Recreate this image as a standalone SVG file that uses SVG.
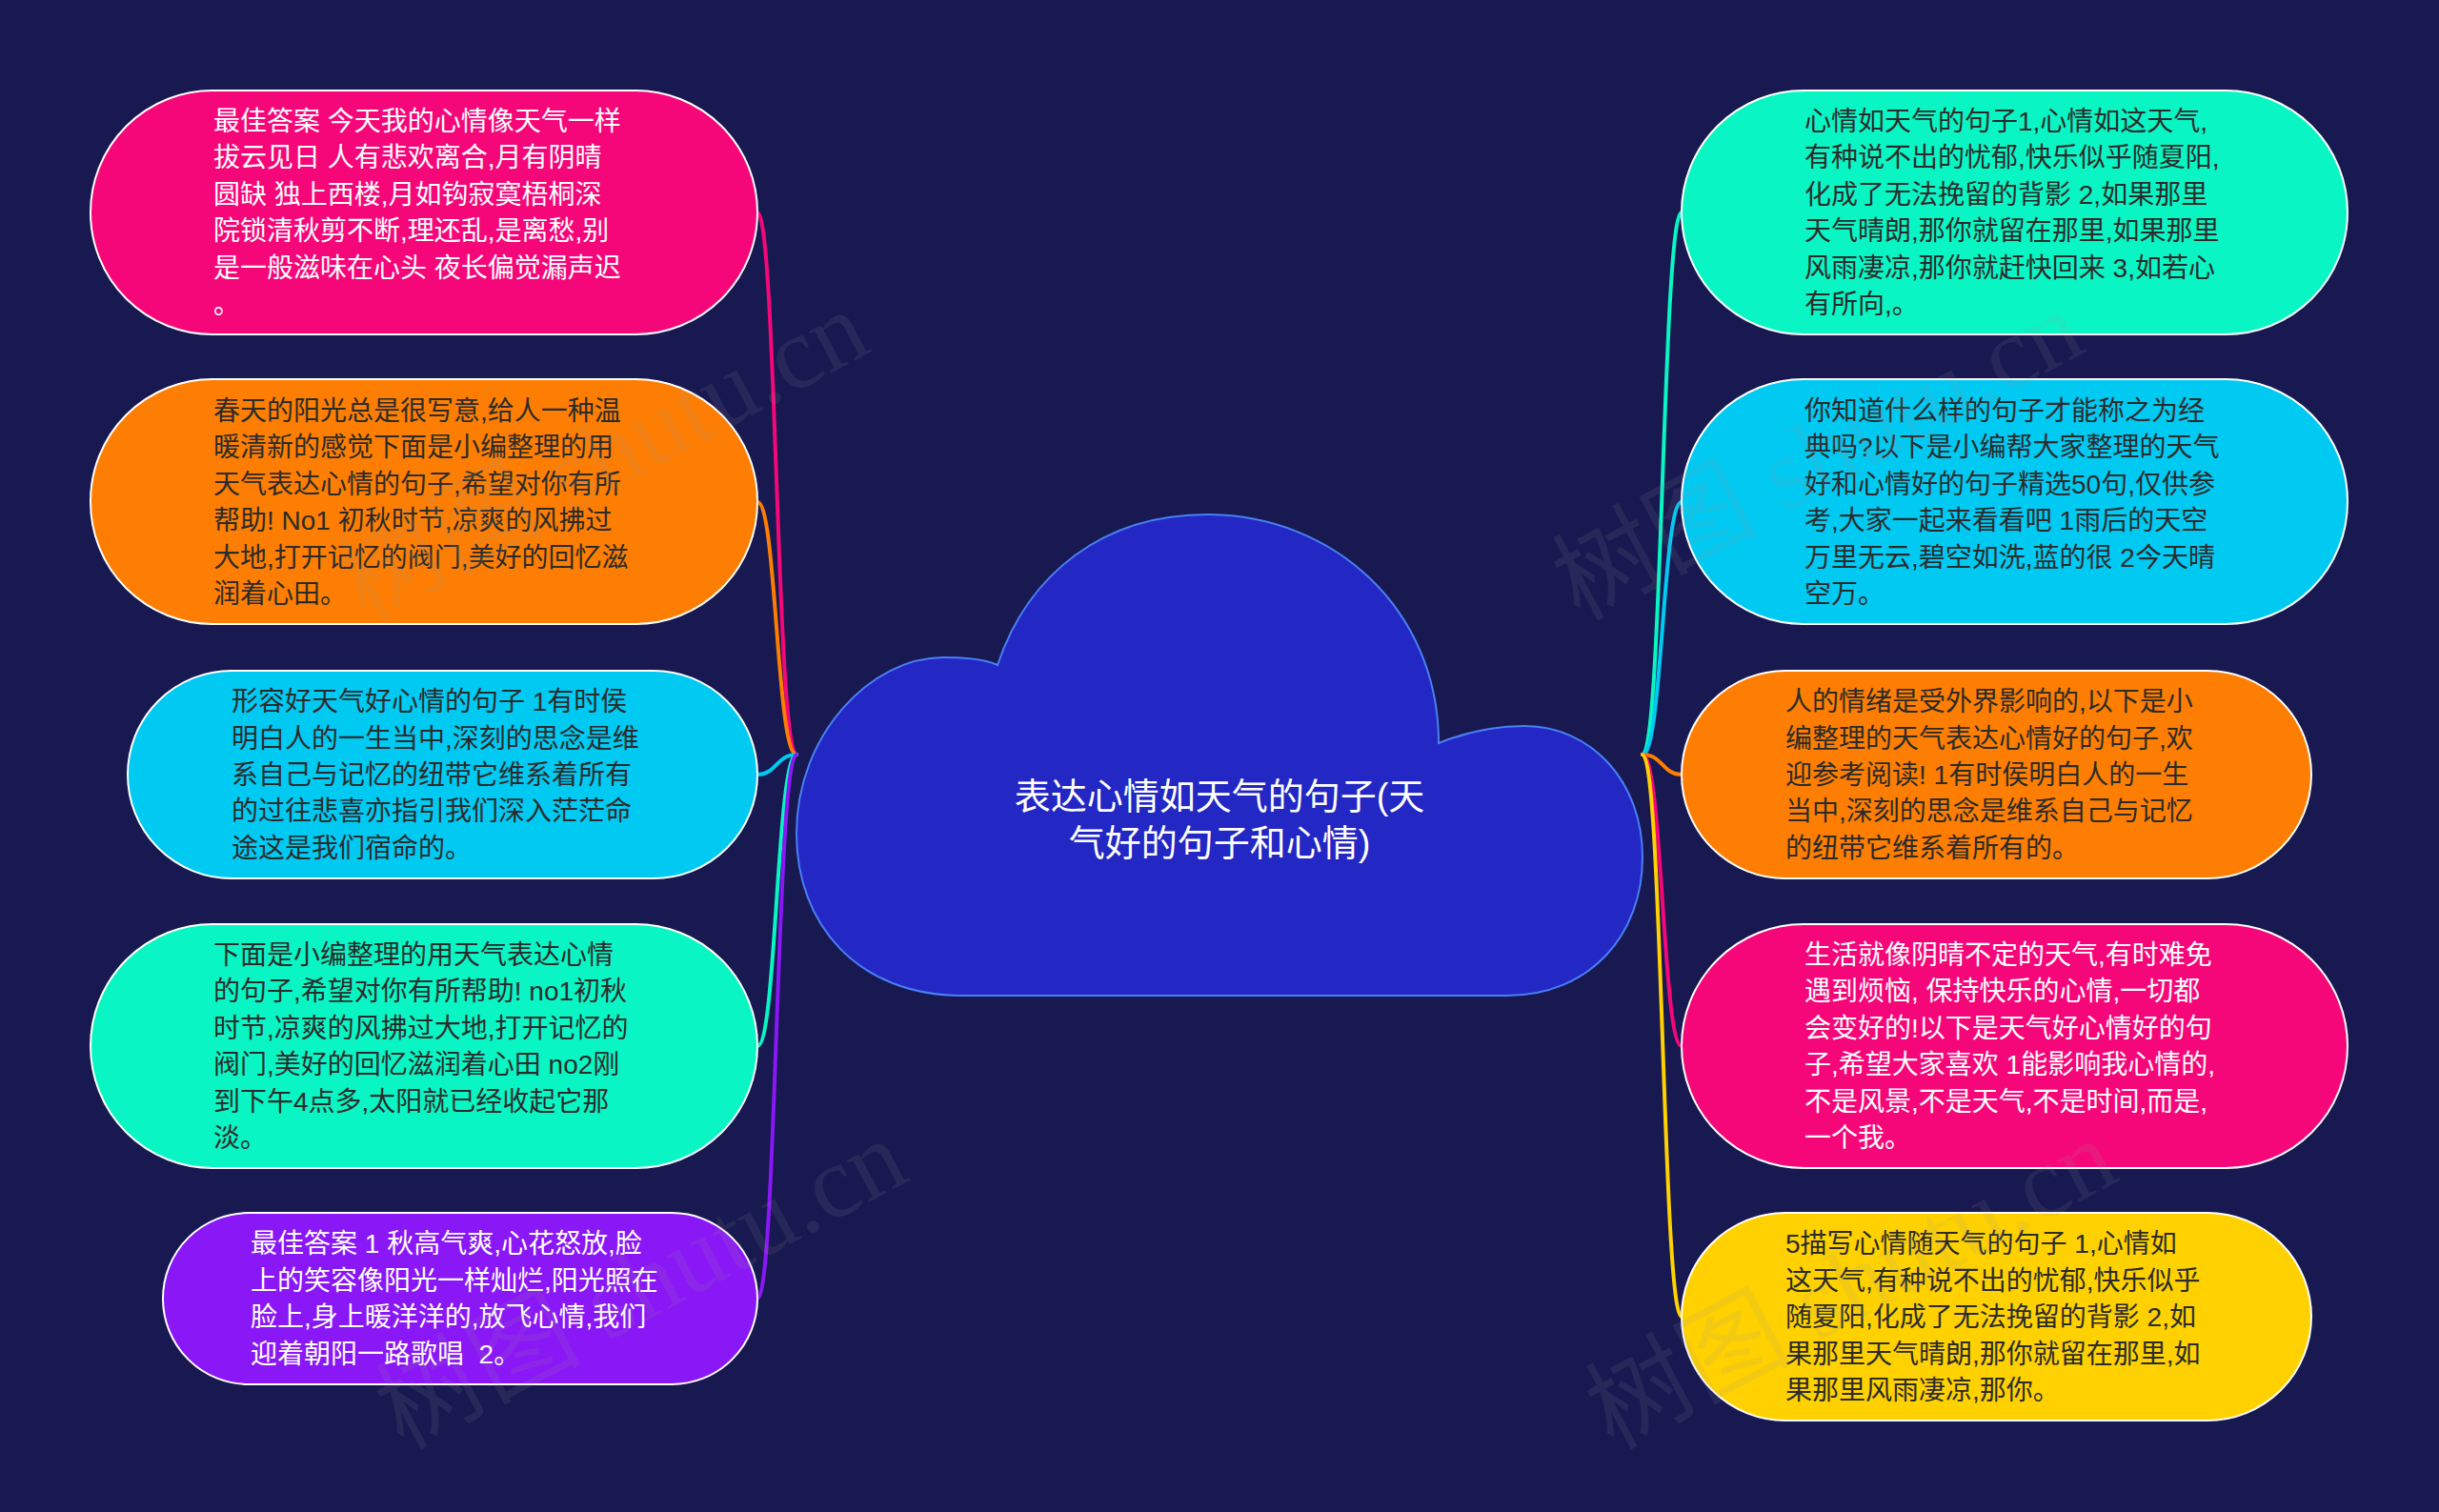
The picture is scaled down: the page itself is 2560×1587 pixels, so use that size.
<svg xmlns="http://www.w3.org/2000/svg" width="2560" height="1587" viewBox="0 0 2560 1587">
<style>
.bg{fill:#171950}
.node{stroke:#ffffff;stroke-width:2}
.t{font-family:"Liberation Sans","Noto Sans CJK SC",sans-serif;font-size:28px}
.w{fill:#ffffff}
.d{fill:#2b2b2b}
.title{font-family:"Liberation Sans","Noto Sans CJK SC",sans-serif;font-size:38px;fill:#ffffff;text-anchor:middle}
.conn{fill:none;stroke-width:4;stroke-linecap:round}
.wm{font-family:"Liberation Serif","Noto Sans CJK SC",serif;font-size:108px;fill:#9a9a9a;fill-opacity:0.12}
</style>
<rect class="bg" x="0" y="0" width="2560" height="1587"/>

<g id="connectors">
<path class="conn" stroke="#F5077A" d="M836 792 C815 792 815 223 795 223"/>
<path class="conn" stroke="#FD7E02" d="M836 792 C815 792 815 527 795 527"/>
<path class="conn" stroke="#00C9F2" d="M836 792 C815 792 815 813 795 813"/>
<path class="conn" stroke="#0AF5C4" d="M836 792 C815 792 815 1098 795 1098"/>
<path class="conn" stroke="#8A17F5" d="M836 792 C815 792 815 1363 795 1363"/>
<path class="conn" stroke="#0AF5C4" d="M1724 792 C1745 792 1745 223 1765 223"/>
<path class="conn" stroke="#00C9F2" d="M1724 792 C1745 792 1745 527 1765 527"/>
<path class="conn" stroke="#FD7E02" d="M1724 792 C1745 792 1745 813 1765 813"/>
<path class="conn" stroke="#F5077A" d="M1724 792 C1745 792 1745 1098 1765 1098"/>
<path class="conn" stroke="#FFD100" d="M1724 792 C1745 792 1745 1382 1765 1382"/>
</g>

<g id="center">
<path d="M1010 1045 C900 1045 836 970 836 875 C836 770 915 690 990 690 C1015 690 1035 692 1047 698 C1080 600 1160 540 1267 540 C1400 540 1510 640 1510 780 C1540 768 1570 762 1600 762 C1670 762 1724 820 1724 900 C1724 980 1670 1045 1581 1045 Z" fill="#2327C4" stroke="#4A7FF5" stroke-width="2"/>
<text class="title"><tspan x="1280" y="849">表达心情如天气的句子(天</tspan><tspan x="1280" y="898">气好的句子和心情)</tspan></text>
</g>

<g id="L1">
<rect class="node" x="95" y="95" width="700" height="256" rx="128" fill="#F5077A"/>
<text class="t w"><tspan x="224" y="137">最佳答案 今天我的心情像天气一样</tspan><tspan x="224" y="175">拔云见日 人有悲欢离合,月有阴晴</tspan><tspan x="224" y="214">圆缺 独上西楼,月如钩寂寞梧桐深</tspan><tspan x="224" y="252">院锁清秋剪不断,理还乱,是离愁,别</tspan><tspan x="224" y="291">是一般滋味在心头 夜长偏觉漏声迟</tspan><tspan x="224" y="329">。</tspan></text>
</g>
<g id="L2">
<rect class="node" x="95" y="398" width="700" height="257" rx="128" fill="#FD7E02"/>
<text class="t d"><tspan x="224" y="441">春天的阳光总是很写意,给人一种温</tspan><tspan x="224" y="479">暖清新的感觉下面是小编整理的用</tspan><tspan x="224" y="518">天气表达心情的句子,希望对你有所</tspan><tspan x="224" y="556">帮助! No1 初秋时节,凉爽的风拂过</tspan><tspan x="224" y="595">大地,打开记忆的阀门,美好的回忆滋</tspan><tspan x="224" y="633">润着心田。</tspan></text>
</g>
<g id="L3">
<rect class="node" x="134" y="704" width="661" height="218" rx="109" fill="#00C9F2"/>
<text class="t d"><tspan x="243" y="746">形容好天气好心情的句子 1有时侯</tspan><tspan x="243" y="785">明白人的一生当中,深刻的思念是维</tspan><tspan x="243" y="823">系自己与记忆的纽带它维系着所有</tspan><tspan x="243" y="861">的过往悲喜亦指引我们深入茫茫命</tspan><tspan x="243" y="900">途这是我们宿命的。</tspan></text>
</g>
<g id="L4">
<rect class="node" x="95" y="970" width="700" height="256" rx="128" fill="#0AF5C4"/>
<text class="t d"><tspan x="224" y="1012">下面是小编整理的用天气表达心情</tspan><tspan x="224" y="1050">的句子,希望对你有所帮助! no1初秋</tspan><tspan x="224" y="1089">时节,凉爽的风拂过大地,打开记忆的</tspan><tspan x="224" y="1127">阀门,美好的回忆滋润着心田 no2刚</tspan><tspan x="224" y="1166">到下午4点多,太阳就已经收起它那</tspan><tspan x="224" y="1204">淡。</tspan></text>
</g>
<g id="L5">
<rect class="node" x="171" y="1273" width="624" height="180" rx="90" fill="#8A17F5"/>
<text class="t w"><tspan x="263" y="1315">最佳答案 1 秋高气爽,心花怒放,脸</tspan><tspan x="263" y="1354">上的笑容像阳光一样灿烂,阳光照在</tspan><tspan x="263" y="1392">脸上,身上暖洋洋的,放飞心情,我们</tspan><tspan x="263" y="1431">迎着朝阳一路歌唱&#160; 2。</tspan></text>
</g>

<g id="R1">
<rect class="node" x="1765" y="95" width="699" height="256" rx="128" fill="#0AF5C4"/>
<text class="t d"><tspan x="1894" y="137">心情如天气的句子1,心情如这天气,</tspan><tspan x="1894" y="175">有种说不出的忧郁,快乐似乎随夏阳,</tspan><tspan x="1894" y="214">化成了无法挽留的背影 2,如果那里</tspan><tspan x="1894" y="252">天气晴朗,那你就留在那里,如果那里</tspan><tspan x="1894" y="291">风雨凄凉,那你就赶快回来 3,如若心</tspan><tspan x="1894" y="329">有所向,。</tspan></text>
</g>
<g id="R2">
<rect class="node" x="1765" y="398" width="699" height="257" rx="128" fill="#00C9F2"/>
<text class="t d"><tspan x="1894" y="441">你知道什么样的句子才能称之为经</tspan><tspan x="1894" y="479">典吗?以下是小编帮大家整理的天气</tspan><tspan x="1894" y="518">好和心情好的句子精选50句,仅供参</tspan><tspan x="1894" y="556">考,大家一起来看看吧 1雨后的天空</tspan><tspan x="1894" y="595">万里无云,碧空如洗,蓝的很 2今天晴</tspan><tspan x="1894" y="633">空万。</tspan></text>
</g>
<g id="R3">
<rect class="node" x="1765" y="704" width="661" height="218" rx="109" fill="#FD7E02"/>
<text class="t d"><tspan x="1874" y="746">人的情绪是受外界影响的,以下是小</tspan><tspan x="1874" y="785">编整理的天气表达心情好的句子,欢</tspan><tspan x="1874" y="823">迎参考阅读! 1有时侯明白人的一生</tspan><tspan x="1874" y="861">当中,深刻的思念是维系自己与记忆</tspan><tspan x="1874" y="900">的纽带它维系着所有的。</tspan></text>
</g>
<g id="R4">
<rect class="node" x="1765" y="970" width="699" height="256" rx="128" fill="#F5077A"/>
<text class="t w"><tspan x="1894" y="1012">生活就像阴晴不定的天气,有时难免</tspan><tspan x="1894" y="1050">遇到烦恼, 保持快乐的心情,一切都</tspan><tspan x="1894" y="1089">会变好的!以下是天气好心情好的句</tspan><tspan x="1894" y="1127">子,希望大家喜欢 1能影响我心情的,</tspan><tspan x="1894" y="1166">不是风景,不是天气,不是时间,而是,</tspan><tspan x="1894" y="1204">一个我。</tspan></text>
</g>
<g id="R5">
<rect class="node" x="1765" y="1273" width="661" height="218" rx="109" fill="#FFD100"/>
<text class="t d"><tspan x="1874" y="1315">5描写心情随天气的句子 1,心情如</tspan><tspan x="1874" y="1354">这天气,有种说不出的忧郁,快乐似乎</tspan><tspan x="1874" y="1392">随夏阳,化成了无法挽留的背影 2,如</tspan><tspan x="1874" y="1431">果那里天气晴朗,那你就留在那里,如</tspan><tspan x="1874" y="1469">果那里风雨凄凉,那你。</tspan></text>
</g>

<g id="watermarks">
<text class="wm" transform="translate(650 510) rotate(-28)" text-anchor="middle">树图 shutu.cn</text>
<text class="wm" transform="translate(1925 510) rotate(-28)" text-anchor="middle">树图 shutu.cn</text>
<text class="wm" transform="translate(690 1380) rotate(-28)" text-anchor="middle">树图 shutu.cn</text>
<text class="wm" transform="translate(1960 1380) rotate(-28)" text-anchor="middle">树图 shutu.cn</text>
</g>
</svg>
